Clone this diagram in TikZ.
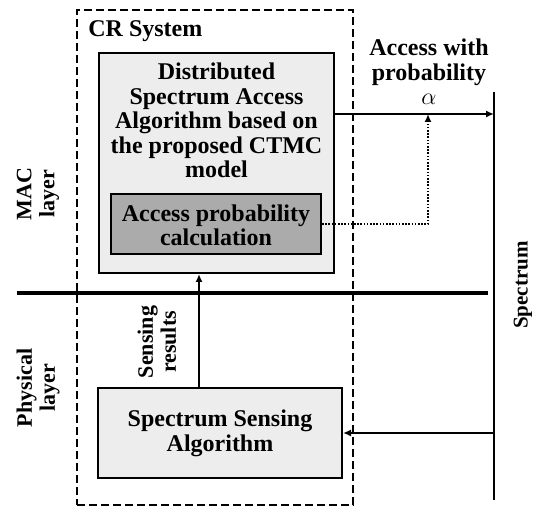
\documentclass[tikz,border=0pt]{standalone}
\usepackage{fontspec}
\setmainfont{Liberation Serif}
\usetikzlibrary{arrows.meta}

\tikzset{
  boxtext/.style={font=\fontsize{12}{12.3}\selectfont\bfseries, align=center, inner sep=0pt},
  sidetext/.style={font=\fontsize{11}{11.5}\selectfont\bfseries, align=center, inner sep=0pt, rotate=90},
  lightbox/.style={draw, line width=1pt, fill=black!7, inner sep=0pt},
  darkbox/.style={draw, line width=1pt, fill=black!33, inner sep=0pt},
  arr/.style={line width=0.8pt, -{Latex[length=4pt,width=3.5pt]}}
}

\begin{document}
\begin{tikzpicture}[x=0.5pt, y=-0.5pt]

\useasboundingbox (0,0) rectangle (541,507);

\node [draw, line width=1.3pt, dash pattern=on 3.8pt off 2.2pt, minimum width=138pt, minimum height=247.5pt] (crsys) at (215,257.5) {};
\node [boxtext, anchor=west] (crlabel) at (88,31) {CR System};

\node [lightbox, minimum width=117.5pt, minimum height=110pt] (dsa) at (216.5,163) {};
\node [boxtext] (dsatxt) at (216.5,120.5) {Distributed\\Spectrum Access\\Algorithm based on\\the proposed CTMC\\model};

\node [darkbox, minimum width=105pt, minimum height=30pt] (calc) at (216,224) {};
\node [boxtext] (calctxt) at (216,225.5) {Access probability\\calculation};

\node [lightbox, minimum width=122pt, minimum height=45pt] (sense) at (220,433) {};
\node [boxtext] (sensetxt) at (220,433.5) {Spectrum Sensing\\Algorithm};

\coordinate (spectop) at (494,92);
\coordinate (specbot) at (494,500);
\draw [line width=1.4pt] (spectop) -- (specbot);
\node [sidetext, font=\fontsize{10.5}{11}\selectfont\bfseries] (spectxt) at (523,285) {Spectrum};

\coordinate (layerL) at (17,293);
\coordinate (layerR) at (488,293);
\draw [line width=2pt] (layerL) -- (layerR);

\node [sidetext] (mac) at (38,194) {MAC\\layer};
\node [sidetext] (phy) at (38,388) {Physical\\layer};

\node [boxtext] (acctxt) at (429,72) {Access with\\probability\\$\alpha$};

\coordinate (accend) at (494,114);
\coordinate (alphapt) at (428,114);
\draw [arr] (dsa.east |- accend) -- (accend);
\draw [arr, line width=1pt, dash pattern=on 0.8pt off 0.8pt] (calc.east) -| (alphapt);

\coordinate (sensex) at (199,300);
\draw [arr] (sense.north -| sensex) -- (dsa.south -| sensex);
\node [sidetext] (sresults) at (157,342) {Sensing\\results};

\draw [arr] (sense.east -| specbot) -- (sense.east);

\end{tikzpicture}
\end{document}
